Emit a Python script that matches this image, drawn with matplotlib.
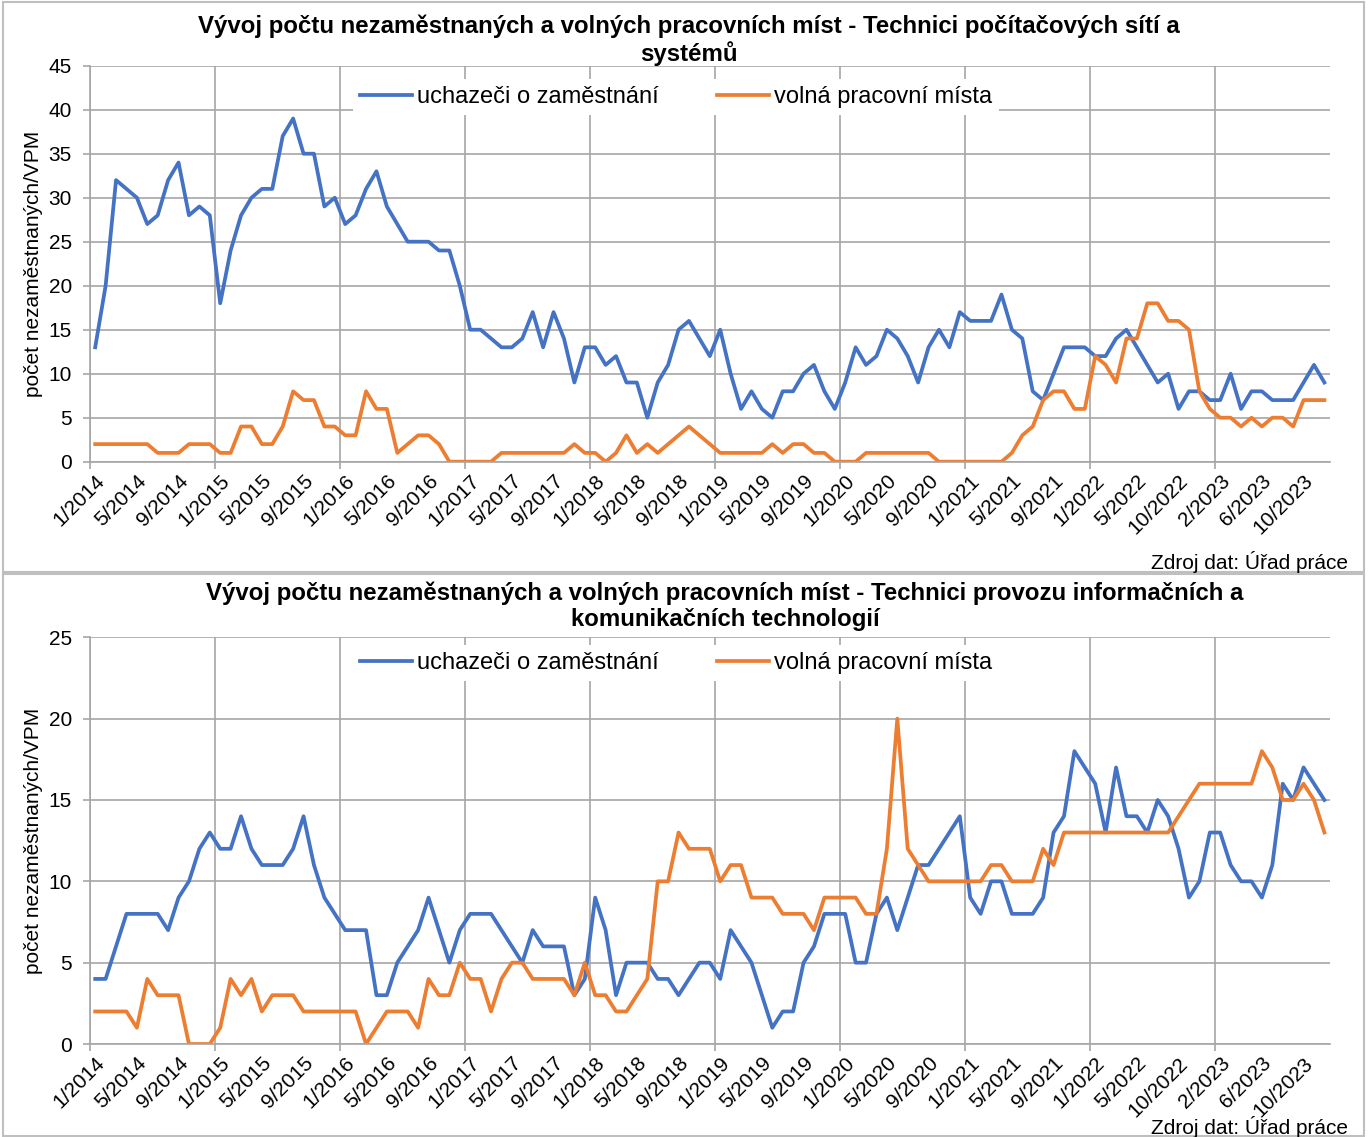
import matplotlib.pyplot as plt
from matplotlib.patches import Rectangle

plt.rcParams['font.family'] = ['Liberation Sans', 'DejaVu Sans']

# kategorie - mesice 1/2014 az 12/2023, v datech chybi jeden mesic v roce 2022
mesice = [f'{m}/{r}' for r in range(2014, 2024) for m in range(1, 13)]
mesice.remove('7/2022')

# Technici pocitacovych siti a systemu
site_uchazeci = [13, 20, 32, 31, 30, 27, 28, 32, 34, 28, 29, 28,
                 18, 24, 28, 30, 31, 31, 37, 39, 35, 35, 29, 30,
                 27, 28, 31, 33, 29, 27, 25, 25, 25, 24, 24, 20,
                 15, 15, 14, 13, 13, 14, 17, 13, 17, 14, 9, 13,
                 13, 11, 12, 9, 9, 5, 9, 11, 15, 16, 14, 12,
                 15, 10, 6, 8, 6, 5, 8, 8, 10, 11, 8, 6,
                 9, 13, 11, 12, 15, 14, 12, 9, 13, 15, 13, 17,
                 16, 16, 16, 19, 15, 14, 8, 7, 10, 13, 13, 13,
                 12, 12, 14, 15, 13, 11, 9, 10, 6, 8, 8, 7,
                 7, 10, 6, 8, 8, 7, 7, 7, 9, 11, 9]
site_vpm = [2, 2, 2, 2, 2, 2, 1, 1, 1, 2, 2, 2,
            1, 1, 4, 4, 2, 2, 4, 8, 7, 7, 4, 4,
            3, 3, 8, 6, 6, 1, 2, 3, 3, 2, 0, 0,
            0, 0, 0, 1, 1, 1, 1, 1, 1, 1, 2, 1,
            1, 0, 1, 3, 1, 2, 1, 2, 3, 4, 3, 2,
            1, 1, 1, 1, 1, 2, 1, 2, 2, 1, 1, 0,
            0, 0, 1, 1, 1, 1, 1, 1, 1, 0, 0, 0,
            0, 0, 0, 0, 1, 3, 4, 7, 8, 8, 6, 6,
            12, 11, 9, 14, 14, 18, 18, 16, 16, 15, 8, 6,
            5, 5, 4, 5, 4, 5, 5, 4, 7, 7, 7]

# Technici provozu ICT
ict_uchazeci = [4, 4, 6, 8, 8, 8, 8, 7, 9, 10, 12, 13,
                12, 12, 14, 12, 11, 11, 11, 12, 14, 11, 9, 8,
                7, 7, 7, 3, 3, 5, 6, 7, 9, 7, 5, 7,
                8, 8, 8, 7, 6, 5, 7, 6, 6, 6, 3, 4,
                9, 7, 3, 5, 5, 5, 4, 4, 3, 4, 5, 5,
                4, 7, 6, 5, 3, 1, 2, 2, 5, 6, 8, 8,
                8, 5, 5, 8, 9, 7, 9, 11, 11, 12, 13, 14,
                9, 8, 10, 10, 8, 8, 8, 9, 13, 14, 18, 17,
                16, 13, 17, 14, 14, 13, 15, 14, 12, 9, 10, 13,
                13, 11, 10, 10, 9, 11, 16, 15, 17, 16, 15]
ict_vpm = [2, 2, 2, 2, 1, 4, 3, 3, 3, 0, 0, 0,
           1, 4, 3, 4, 2, 3, 3, 3, 2, 2, 2, 2,
           2, 2, 0, 1, 2, 2, 2, 1, 4, 3, 3, 5,
           4, 4, 2, 4, 5, 5, 4, 4, 4, 4, 3, 5,
           3, 3, 2, 2, 3, 4, 10, 10, 13, 12, 12, 12,
           10, 11, 11, 9, 9, 9, 8, 8, 8, 7, 9, 9,
           9, 9, 8, 8, 12, 20, 12, 11, 10, 10, 10, 10,
           10, 10, 11, 11, 10, 10, 10, 12, 11, 13, 13, 13,
           13, 13, 13, 13, 13, 13, 13, 13, 14, 15, 16, 16,
           16, 16, 16, 16, 18, 17, 15, 15, 16, 15, 13]

modra = '#4472C4'
oranzova = '#ED7D31'
seda = '#A6A6A6'
W, H = 1370, 1137


def px(x, y):
    # pixely obrazku -> souradnice figury
    return x / W, 1 - y / H


def graf(ax, uchazeci, vpm, ymax, legenda_y):
    x = range(len(mesice))
    ax.plot(x, uchazeci, color=modra, lw=2.7, label='uchazeči o zaměstnání')
    ax.plot(x, vpm, color=oranzova, lw=2.7, label='volná pracovní místa')
    ax.set_xlim(-0.5, len(mesice) - 0.5)
    ax.set_ylim(0, ymax)
    ax.set_yticks(range(0, ymax + 1, 5))
    ax.set_xticks([k - 0.5 for k in range(0, len(mesice), 12)])
    ax.set_xticklabels([])
    ax.set_xticks(range(0, len(mesice), 4), minor=True)
    ax.set_xticklabels(mesice[::4], minor=True, rotation=45, ha='right',
                       va='top', rotation_mode='anchor')
    ax.tick_params(axis='x', which='minor', length=0, pad=7, labelsize=15)
    ax.tick_params(axis='both', which='major', length=5, width=1.2,
                   color=seda, labelsize=15, pad=8)
    ax.grid(True, which='major', color=seda, lw=1.2)
    ax.set_axisbelow(True)
    for s in ['top', 'right']:
        ax.spines[s].set_visible(False)
    for s in ['left', 'bottom']:
        ax.spines[s].set_color(seda)
        ax.spines[s].set_linewidth(1.2)
    ax.set_ylabel('počet nezaměstnaných/VPM', fontsize=15)
    ax.yaxis.set_label_coords(-0.038, 0.5)
    ax.legend(loc='center', bbox_to_anchor=px(676, legenda_y),
              bbox_transform=fig.transFigure, ncol=2, fontsize=17,
              handlelength=2.2, handletextpad=0.2, columnspacing=2.5,
              borderpad=0.3, frameon=True, facecolor='white',
              edgecolor='none', framealpha=1)


fig = plt.figure(figsize=(W / 100, H / 100), dpi=100)

# ramecky obou grafu
for y0, y1 in [(2, 572), (574, 1136)]:
    fig.add_artist(Rectangle(px(3, y1), 1361 / W, (y1 - y0) / H,
                             transform=fig.transFigure, fill=False,
                             edgecolor='#BFBFBF', lw=1.5))

ax1 = fig.add_axes([90 / W, 1 - 461.7 / H, 1239.6 / W, 396 / H])
graf(ax1, site_uchazeci, site_vpm, 45, 97)
ax2 = fig.add_axes([90 / W, 1 - 1044 / H, 1239.6 / W, 406.7 / H])
graf(ax2, ict_uchazeci, ict_vpm, 25, 663)

fig.text(*px(689, 40), 'Vývoj počtu nezaměstnaných a volných pracovních míst - '
         'Technici počítačových sítí a\nsystémů', ha='center', va='center',
         fontsize=17.3, fontweight='bold', linespacing=1.15)
fig.text(*px(725, 606), 'Vývoj počtu nezaměstnaných a volných pracovních míst - '
         'Technici provozu informačních a\nkomunikačních technologií',
         ha='center', va='center', fontsize=17.3, fontweight='bold',
         linespacing=1.15)
fig.text(*px(1348, 562), 'Zdroj dat: Úřad práce', ha='right', va='center', fontsize=15)
fig.text(*px(1348, 1127), 'Zdroj dat: Úřad práce', ha='right', va='center', fontsize=15)

fig.savefig('out.png', dpi=100)
